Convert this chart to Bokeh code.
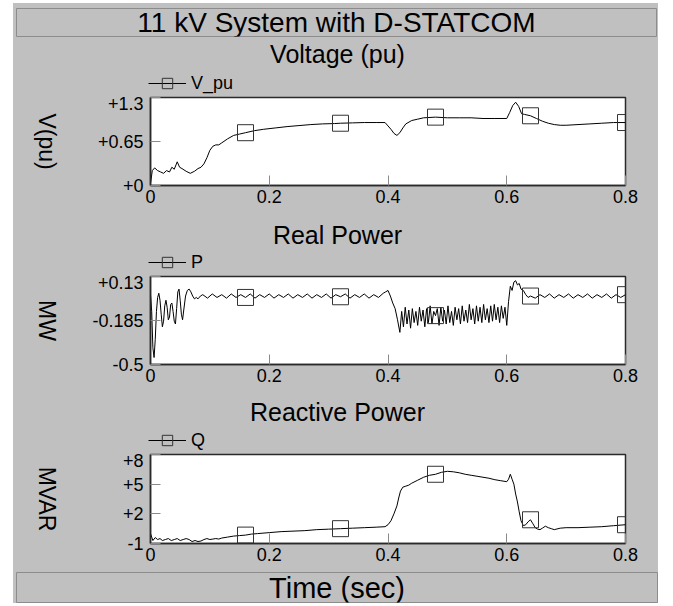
import numpy as np
from bokeh.plotting import figure
from bokeh.models import Range1d, FixedTicker, Legend, LegendItem, Label, PrintfTickFormatter
from bokeh.layouts import row
from bokeh.embed import file_html
from bokeh.resources import INLINE

FONT = "Liberation Sans"
GRAY = "#c0c0c0"

MAIN_TITLE = "11 kV System with D-STATCOM"
X_TITLE = "Time (sec)"
PANEL_TITLES = ["Voltage (pu)", "Real Power", "Reactive Power"]
Y_TITLES = ["V(pu)", "MW", "MVAR"]
SERIES_NAMES = ["V_pu", "P", "Q"]
X_TICKS = [0, 0.2, 0.4, 0.6, 0.8]
MARKER_T = [0.16, 0.32, 0.48, 0.64, 0.8]
V_TICKS = [0, 0.65, 1.3]
P_TICKS = [-0.5, -0.185, 0.13]
Q_TICKS = [-1, 2, 5, 8]

# ---- Voltage (pu)
t_v = [0.000, 0.003, 0.007, 0.012, 0.017, 0.022, 0.027, 0.032, 0.036, 0.040,
       0.045, 0.049, 0.053, 0.060, 0.067, 0.074, 0.080, 0.085, 0.090, 0.095,
       0.100, 0.105, 0.110, 0.115, 0.120, 0.130, 0.140, 0.150, 0.160, 0.175,
       0.190, 0.210, 0.230, 0.250, 0.270, 0.290, 0.310, 0.320, 0.340, 0.360,
       0.380, 0.395, 0.400, 0.405, 0.410, 0.415, 0.420, 0.425, 0.430, 0.440,
       0.450, 0.460, 0.480, 0.500, 0.520, 0.540, 0.560, 0.580, 0.600, 0.605,
       0.610, 0.615, 0.620, 0.625, 0.630, 0.640, 0.650, 0.660, 0.670, 0.680,
       0.690, 0.700, 0.720, 0.740, 0.760, 0.780, 0.800]
v_pu = [0.03, 0.22, 0.26, 0.22, 0.20, 0.18, 0.22, 0.20, 0.27, 0.24,
        0.35, 0.27, 0.25, 0.21, 0.18, 0.21, 0.25, 0.27, 0.32, 0.41,
        0.52, 0.58, 0.60, 0.60, 0.63, 0.69, 0.74, 0.76, 0.78, 0.81,
        0.83, 0.85, 0.87, 0.885, 0.90, 0.91, 0.915, 0.92, 0.925, 0.93,
        0.93, 0.93, 0.88, 0.83, 0.77, 0.74, 0.78, 0.85, 0.91, 0.96,
        0.98, 1.00, 1.01, 1.00, 1.00, 1.00, 0.99, 0.99, 0.99, 1.08,
        1.18, 1.23, 1.17, 1.06, 1.05, 1.03, 0.99, 0.95, 0.92, 0.90,
        0.89, 0.89, 0.90, 0.91, 0.92, 0.93, 0.93]

# ---- Real power (MW)
t_p = [0.000, 0.002, 0.004, 0.006, 0.008, 0.010, 0.012, 0.014, 0.016, 0.018,
       0.020, 0.022, 0.024, 0.026, 0.028, 0.030, 0.032, 0.034, 0.036, 0.038,
       0.040, 0.042, 0.044, 0.046, 0.048, 0.050, 0.052, 0.054, 0.056, 0.059,
       0.062, 0.065, 0.068, 0.071, 0.074, 0.077, 0.080, 0.084,
       0.088, 0.096, 0.104, 0.112, 0.120, 0.128, 0.136, 0.144, 0.152, 0.160,
       0.168, 0.176, 0.184, 0.192, 0.200, 0.208, 0.216, 0.224, 0.232, 0.240,
       0.248, 0.256, 0.264, 0.272, 0.280, 0.288, 0.296, 0.304, 0.312, 0.320,
       0.328, 0.336, 0.344, 0.352, 0.360, 0.368, 0.376, 0.384, 0.392,
       0.396, 0.400, 0.404, 0.408, 0.412, 0.416,
       0.420, 0.423, 0.426, 0.429, 0.432, 0.435, 0.438, 0.441, 0.444, 0.447,
       0.450, 0.453, 0.456, 0.459, 0.462, 0.465, 0.468, 0.471, 0.474, 0.477,
       0.480, 0.483, 0.486, 0.489, 0.492, 0.495, 0.498, 0.501, 0.504, 0.507,
       0.510, 0.513, 0.516, 0.519, 0.522, 0.525, 0.528, 0.531, 0.534, 0.537,
       0.540, 0.543, 0.546, 0.549, 0.552, 0.555, 0.558, 0.561, 0.564, 0.567,
       0.570, 0.573, 0.576, 0.579, 0.582, 0.585, 0.588, 0.591, 0.594, 0.597,
       0.600,
       0.603, 0.606, 0.609, 0.612, 0.615, 0.618, 0.621, 0.624, 0.628, 0.632,
       0.636, 0.640,
       0.648, 0.656, 0.664, 0.672, 0.680, 0.688, 0.696, 0.704, 0.712, 0.720,
       0.728, 0.736, 0.744, 0.752, 0.760, 0.768, 0.776, 0.784, 0.792, 0.800]
p_mw = [0.00, -0.12, -0.38, -0.45, -0.32, -0.12, -0.02, 0.01, -0.04, -0.14,
        -0.23, -0.19, -0.08, -0.04, -0.09, -0.18, -0.16, -0.07, -0.06, -0.12,
        -0.19, -0.21, -0.10, 0.02, 0.04, -0.04, -0.14, -0.18, -0.11, -0.01,
        0.03, 0.04, 0.02, -0.01, -0.03, -0.02, -0.03, -0.01,
        0.00, -0.025, 0.005, -0.02, 0.00, -0.025, 0.005, -0.02, 0.00, -0.02,
        0.005, -0.025, 0.00, -0.02, 0.005, -0.025, 0.00, -0.02, 0.005, -0.025,
        0.00, -0.02, 0.005, -0.025, 0.00, -0.02, 0.005, -0.025, 0.00, -0.015,
        0.005, -0.025, 0.00, -0.02, 0.005, -0.025, 0.00, -0.02, 0.01,
        0.02, 0.03, -0.01, -0.06, -0.10, -0.18,
        -0.27, -0.12, -0.23, -0.09, -0.21, -0.11, -0.24, -0.10, -0.20, -0.12,
        -0.22, -0.09, -0.19, -0.11, -0.23, -0.10, -0.20, -0.08, -0.21, -0.12,
        -0.15, -0.10, -0.22, -0.09, -0.19, -0.11, -0.21, -0.08, -0.20, -0.12,
        -0.22, -0.09, -0.18, -0.10, -0.21, -0.08, -0.19, -0.11, -0.20, -0.07,
        -0.18, -0.10, -0.21, -0.08, -0.19, -0.09, -0.20, -0.07, -0.18, -0.10,
        -0.20, -0.08, -0.19, -0.07, -0.18, -0.09, -0.20, -0.08, -0.17, -0.09,
        -0.22,
        -0.05, 0.06, 0.03, 0.09, 0.10, 0.07, 0.08, 0.04, 0.03, 0.00,
        -0.02, -0.01,
        -0.025, 0.00, -0.02, 0.005, -0.025, 0.00, -0.02, 0.005, -0.025, 0.00,
        -0.02, 0.005, -0.025, 0.00, -0.02, 0.005, -0.025, 0.00, -0.02, 0.00]

# ---- Reactive power (MVAR)
t_q = [0.000, 0.004, 0.008, 0.012, 0.016, 0.020, 0.025, 0.030, 0.035, 0.040,
       0.045, 0.050, 0.055, 0.060, 0.065, 0.070, 0.075, 0.080, 0.085, 0.090,
       0.095, 0.100, 0.105, 0.110, 0.115, 0.120, 0.130, 0.140, 0.150, 0.160,
       0.170, 0.180, 0.200, 0.220, 0.240, 0.260, 0.280, 0.300, 0.320, 0.340,
       0.360, 0.380, 0.395, 0.400, 0.405, 0.410, 0.415, 0.418, 0.421, 0.425,
       0.430, 0.435, 0.440, 0.450, 0.460, 0.470, 0.480, 0.490, 0.500, 0.510,
       0.520, 0.530, 0.540, 0.550, 0.560, 0.570, 0.580, 0.590, 0.600, 0.603,
       0.606, 0.609, 0.612, 0.615, 0.618, 0.621, 0.624, 0.628, 0.632, 0.636,
       0.640, 0.644, 0.648, 0.652, 0.656, 0.660, 0.665, 0.670, 0.675, 0.680,
       0.690, 0.700, 0.720, 0.740, 0.760, 0.780, 0.800]
q_mvar = [0.0, -0.7, -0.4, -0.6, -0.5, -0.7, -0.6, -0.5, -0.7, -0.6,
          -0.5, -0.7, -0.6, -0.5, -0.6, -0.8, -0.7, -0.8, -0.75, -0.6,
          -0.5, -0.6, -0.55, -0.5, -0.55, -0.45, -0.35, -0.25, -0.2, -0.15,
          -0.05, 0.0, 0.1, 0.2, 0.25, 0.3, 0.4, 0.45, 0.5, 0.55,
          0.6, 0.65, 0.7, 0.9, 1.3, 2.0, 2.8, 3.6, 4.3, 4.7,
          4.8, 4.9, 5.1, 5.4, 5.7, 5.9, 6.0, 6.2, 6.3, 6.25,
          6.15, 6.0, 5.9, 5.8, 5.7, 5.6, 5.45, 5.35, 5.25, 5.5,
          6.0, 5.5, 5.0, 4.0, 3.2, 2.2, 1.3, 0.8, 0.9, 1.2,
          1.4, 1.0, 0.6, 0.45, 0.4, 0.55, 0.75, 0.6, 0.5, 0.4,
          0.55, 0.6, 0.6, 0.65, 0.7, 0.8, 0.9]

assert len(t_v) == len(v_pu) and len(t_p) == len(p_mw) and len(t_q) == len(q_mvar)

FIG_W = 645
LEFT = 13
LAB_W = 70
BG = {"background-color": GRAY}
LINE_STYLE = dict(line_color="black", line_width=1)
MARK_STYLE = dict(marker="square", fill_color=None, line_color="#333333", line_width=1)


def at_times(ts, ys, tq):
    ts = np.asarray(ts, dtype=float)
    return [ys[int(np.argmin(np.abs(ts - q)))] for q in tq]


def bare(width, height, mb_top, mb_bottom, mb_left, mb_right, margin=None):
    kw = {} if margin is None else {"margin": margin}
    f = figure(width=width, height=height, x_axis_location=None, y_axis_location=None,
               output_backend="svg", toolbar_location=None,
               min_border_top=mb_top, min_border_bottom=mb_bottom,
               min_border_left=mb_left, min_border_right=mb_right, styles=BG, **kw)
    f.grid.visible = False
    f.background_fill_color = GRAY
    f.border_fill_color = GRAY
    f.outline_line_color = None
    return f


def make_box(height, text, size, mb_top, mb_bottom, mb_left, mb_right, margin_top):
    f = bare(FIG_W, height, mb_top, mb_bottom, mb_left, mb_right, (margin_top, 0, 0, LEFT))
    f.x_range = Range1d(0, 1)
    f.y_range = Range1d(0, 1)
    f.outline_line_color = "#8c8c8c"
    f.outline_line_width = 1
    f.add_layout(Label(x=0.5, y=0.5, text=text, text_align="center", text_baseline="middle",
                       text_font=FONT, text_font_size=size, text_color="black"))
    return f


def make_head(height, subtitle, name, t, y, title_from_top):
    # strip above each panel: panel title and legend
    left = 135
    f = bare(FIG_W, height, 0, 0, left, 0, (0, 0, 0, LEFT))
    f.x_range = Range1d(0, FIG_W - left)
    f.y_range = Range1d(0, height)
    # series drawn on ranges that keep it out of this strip; used for the legend glyphs
    f.extra_x_ranges = {"hid": Range1d(10, 11)}
    f.extra_y_ranges = {"hid": Range1d(100, 101)}
    f.add_layout(Label(x=337 - LEFT - left, y=height - title_from_top, text=subtitle,
                       text_align="center", text_baseline="middle",
                       text_font=FONT, text_font_size="25px", text_color="black"))
    r = f.line(t, y, x_range_name="hid", y_range_name="hid", **LINE_STYLE)
    s = f.scatter(MARKER_T, at_times(t, y, MARKER_T), size=16,
                  x_range_name="hid", y_range_name="hid", **MARK_STYLE)
    leg = Legend(items=[LegendItem(label=name, renderers=[r, s])], location="bottom_left",
                 orientation="horizontal", padding=0, margin=0, spacing=0,
                 border_line_color=None, background_fill_alpha=0,
                 glyph_width=38, glyph_height=26, label_standoff=5,
                 label_text_font=FONT, label_text_font_size="18px", label_text_color="black")
    f.add_layout(leg, "center")
    return f


def make_panel(t, y, ylabel, yr, yticks, height, mb_top, mb_bottom):
    lab = bare(LAB_W, height, mb_top, mb_bottom, 0, 0)
    lab.x_range = Range1d(0, LAB_W)
    lab.y_range = Range1d(0, 1)
    lab.add_layout(Label(x=46 - LEFT, y=0.5, text=ylabel, angle=-np.pi / 2,
                         text_align="center", text_baseline="middle",
                         text_font=FONT, text_font_size="23px", text_color="black"))

    p = figure(width=FIG_W - LAB_W, height=height, x_range=Range1d(0, 0.8),
               y_range=Range1d(*yr), output_backend="svg", toolbar_location=None,
               min_border_left=137 - LAB_W, min_border_right=33,
               min_border_top=mb_top, min_border_bottom=mb_bottom, styles=BG)
    p.background_fill_color = "white"
    p.border_fill_color = GRAY
    p.outline_line_color = "#2a2a2a"
    p.outline_line_width = 1.5
    p.grid.visible = False

    p.line(t, y, **LINE_STYLE)
    p.scatter(MARKER_T, at_times(t, y, MARKER_T), size=16, **MARK_STYLE)

    p.xaxis.ticker = FixedTicker(ticks=X_TICKS)
    p.xaxis.formatter = PrintfTickFormatter(format="%g")
    p.yaxis.ticker = FixedTicker(ticks=yticks)
    p.yaxis.formatter = PrintfTickFormatter(format="%+g")
    for ax in (p.xaxis, p.yaxis):
        ax.major_tick_in = 10
        ax.major_tick_out = 0
        ax.minor_tick_line_color = None
        ax.major_tick_line_color = "#8a8a8a"
        ax.axis_line_color = "#2a2a2a"
        ax.axis_line_width = 1.5
        ax.major_label_text_font = FONT
        ax.major_label_text_font_size = "18px"
        ax.major_label_text_color = "black"
    p.xaxis.major_label_standoff = 4
    p.yaxis.major_label_standoff = 7
    return row(lab, p, spacing=0, margin=(0, 0, 0, LEFT), styles=BG)


header = make_box(37, MAIN_TITLE, "28px", 5, 4, 3, 2, 3)
h1 = make_head(56, PANEL_TITLES[0], SERIES_NAMES[0], t_v, v_pu, 13)
p1 = make_panel(t_v, v_pu, Y_TITLES[0], (0, 1.3), V_TICKS, 119, 1, 30)
h2 = make_head(60, PANEL_TITLES[1], SERIES_NAMES[1], t_p, p_mw, 19)
p2 = make_panel(t_p, p_mw, Y_TITLES[1], (-0.5, 0.13), P_TICKS, 119, 1, 30)
h3 = make_head(59, PANEL_TITLES[2], SERIES_NAMES[2], t_q, q_mvar, 17)
p3 = make_panel(t_q, q_mvar, Y_TITLES[2], (-1, 8), Q_TICKS, 119, 1, 29)
footer = make_box(31, X_TITLE, "29px", 0, 1, 3, 1, 0)

open("out.html", "w").write(file_html([header, h1, p1, h2, p2, h3, p3, footer], INLINE))
